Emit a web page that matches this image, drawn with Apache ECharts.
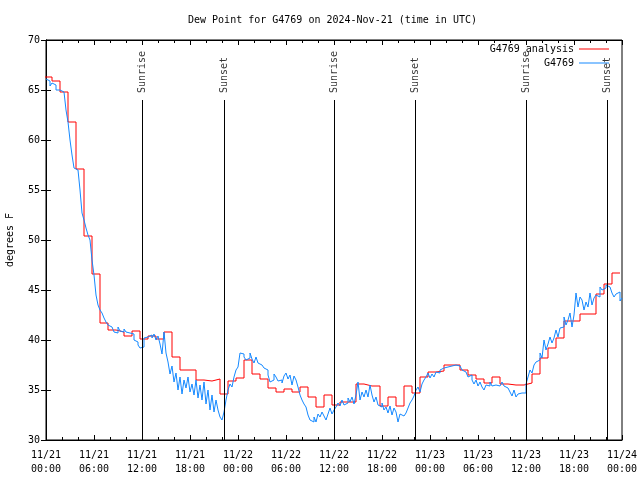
<!DOCTYPE html>
<html>
<head>
<meta charset="utf-8">
<script src="https://cdn.jsdelivr.net/npm/echarts@6/dist/echarts.min.js"></script>
<style>html,body{margin:0;padding:0;background:#fff}#c{width:640px;height:480px}</style>
</head>
<body>
<div id="c"></div>
<script>
// X axis in hours since 2024-11-21 00:00 UTC
const xTickLabels = ['11/21\n00:00','11/21\n06:00','11/21\n12:00','11/21\n18:00','11/22\n00:00','11/22\n06:00','11/22\n12:00','11/22\n18:00','11/23\n00:00','11/23\n06:00','11/23\n12:00','11/23\n18:00','11/24\n00:00'];
const yTicks = [30,35,40,45,50,55,60,65,70];

// G4769 analysis: hourly values, each valid from (hour - 0.25)
const analysisStart = -0.25;
const analysisStep = 1;
const analysisValues = [
66.3,65.9,64.8,61.8,57.1,50.4,46.6,41.7,41.0,40.8,40.4,40.9,
40.1,40.4,40.1,40.8,38.3,37.0,37.0,36.0,35.9,36.1,34.6,35.9,
36.2,38.0,36.6,36.1,35.2,34.8,35.1,34.8,35.3,34.3,33.3,34.5,
33.5,33.8,33.8,35.6,35.4,35.4,33.4,34.3,33.4,35.4,34.7,36.3,
36.8,36.9,37.5,37.5,37.0,36.5,36.1,35.7,36.3,35.6,35.5,35.5,
35.7,36.6,38.2,39.2,40.2,41.9,41.9,42.6,42.6,44.6,45.6,46.7,46.7];

// G4769 observations, every 15 minutes from 00:00
const obsStep = 0.25;
const obsValues = [
66.1,65.9,65.4,65.7, 65.5,65.0,65.0,65.0, 64.8,64.6,63.0,61.8, 60.0,58.5,57.2,57.0,
57.0,55.0,52.7,52.0, 51.2,50.5,50.0,48.0, 46.5,44.5,43.5,43.0, 42.7,42.2,41.8,41.5,
41.3,41.3,40.8,40.7, 41.3,40.9,40.8,41.1, 40.8,40.7,40.9,40.6, 40.0,39.8,39.5,39.2,
39.3,40.2,40.3,40.1, 40.5,40.2,40.6,40.0, 40.4,39.6,38.6,40.8, 38.7,37.8,36.6,37.4,
35.8,36.7,35.0,36.3, 34.6,36.0,35.2,36.3, 34.8,35.6,34.5,36.0, 34.2,35.5,34.0,35.8,
33.6,35.0,33.0,34.5, 32.8,34.0,33.0,32.3, 32.0,32.8,34.0,35.0, 35.6,35.3,36.3,37.0,
37.3,38.7,38.6,38.3, 38.0,38.2,38.7,38.1, 37.7,38.3,37.7,37.5, 37.3,37.2,37.0,36.5,
35.8,36.0,36.6,36.3, 35.9,36.0,35.7,36.4, 36.7,36.1,36.5,35.5, 36.4,36.0,35.3,34.5,
34.0,33.6,33.3,32.5, 32.0,31.8,32.3,31.8, 32.6,32.3,32.8,32.4, 32.0,32.6,33.2,32.6,
33.0,33.3,33.7,33.4, 34.0,33.5,33.7,34.2, 33.8,34.3,33.6,34.5, 35.8,34.0,34.8,34.3,
35.0,34.3,35.5,34.5, 33.8,34.3,33.5,33.3, 33.7,33.0,33.3,32.7, 33.4,32.5,33.2,32.8,
31.8,32.6,32.4,32.6, 32.7,33.2,33.7,34.0, 34.4,35.0,35.3,34.8, 35.6,36.0,36.3,36.7,
36.2,36.6,36.3,36.8, 36.7,37.0,37.2,37.1, 37.3,37.5,37.4,37.5, 37.5,37.6,37.4,37.3,
37.0,36.8,36.6,36.3, 36.5,36.0,35.6,36.0, 35.4,35.8,35.3,35.0, 35.5,35.4,35.8,35.4,
35.5,35.7,35.4,35.6, 35.8,35.4,35.2,35.0, 34.8,34.4,35.0,34.3, 34.6,34.7,34.7,34.7,
35.6,36.3,37.0,36.7, 37.5,37.8,38.0,38.7, 38.2,40.0,39.0,39.6, 40.3,39.7,40.2,41.0,
40.3,41.2,41.3,42.3, 41.5,42.0,42.7,41.3, 42.5,44.7,43.3,44.3, 44.0,43.0,43.8,43.3,
44.7,43.5,44.2,44.5, 44.3,45.3,45.0,45.2, 45.5,45.3,45.4,44.7, 44.3,44.6,44.8,43.9,
44.2];

// Sunrise / sunset times (hours)
const sunNames = ['Sunrise','Sunset','Sunrise','Sunset','Sunrise','Sunset'];
const sunTimes = [12.0, 22.25, 36.0, 46.125, 60.0, 70.125];
const sunLineTop = 64;

const analysisData = analysisValues.map((v,i) => [analysisStart + i*analysisStep, v]);
const obsData = obsValues.map((v,i) => [i*obsStep, v]);
const sunData = sunTimes.map((t,i) => ({name: sunNames[i], value: [t, sunLineTop]}));

const FONT = 'DejaVu Sans Mono';
const chart = echarts.init(document.getElementById('c'), null, {renderer: 'canvas'});
chart.setOption({
  animation: false,
  backgroundColor: '#fff',
  textStyle: {fontFamily: FONT, fontSize: 10, color: '#000'},
  title: {
    text: 'Dew Point for G4769 on 2024-Nov-21 (time in UTC)',
    left: 188, top: 15, padding: 0,
    textStyle: {fontFamily: FONT, fontSize: 10, fontWeight: 'normal', color: '#000'}
  },
  legend: {
    data: [{name: 'G4769 analysis', icon: 'rect'}, {name: 'G4769', icon: 'rect'}],
    orient: 'vertical', right: 26, top: 37, align: 'right',
    itemWidth: 30, itemHeight: 1, itemGap: 0,
    textStyle: {fontFamily: FONT, fontSize: 10, color: '#000', width: 90, align: 'right', lineHeight: 14}
  },
  grid: {left: 46, right: 18, top: 40, bottom: 40, outerBoundsMode: 'none', containLabel: false,
    show: true, borderColor: '#000', borderWidth: 1, backgroundColor: 'transparent'},
  xAxis: [{
    type: 'value', min: 0, max: 72, interval: 6,
    axisLine: {show: true, lineStyle: {color: '#000'}},
    axisTick: {show: true, inside: true, length: 5, lineStyle: {color: '#000'}},
    minorTick: {show: true, splitNumber: 3, length: 3, lineStyle: {color: '#000'}},
    splitLine: {show: false},
    axisLabel: {margin: 8, lineHeight: 14, color: '#000', fontFamily: FONT, fontSize: 10,
      formatter: (v) => xTickLabels[Math.round(v/6)]}
  }, {
    type: 'value', position: 'top', min: 0, max: 72, interval: 6,
    axisLine: {show: true, lineStyle: {color: '#000'}},
    axisTick: {show: true, inside: true, length: 5, lineStyle: {color: '#000'}},
    minorTick: {show: true, splitNumber: 3, length: 3, lineStyle: {color: '#000'}},
    splitLine: {show: false}, axisLabel: {show: false}
  }],
  yAxis: [{
    type: 'value', min: 30, max: 70, interval: 5,
    name: 'degrees F', nameLocation: 'middle', nameGap: 31, nameRotate: 90,
    nameTextStyle: {fontFamily: FONT, fontSize: 10, color: '#000'},
    axisLine: {show: true, lineStyle: {color: '#000'}},
    axisTick: {show: true, inside: true, length: 5, lineStyle: {color: '#000'}},
    splitLine: {show: false},
    axisLabel: {margin: 6, color: '#000', fontFamily: FONT, fontSize: 10,
      formatter: (v) => yTicks.includes(v) ? String(v) : ''}
  }, {
    type: 'value', position: 'right', min: 30, max: 70, interval: 5,
    axisLine: {show: true, lineStyle: {color: '#000'}},
    axisTick: {show: true, inside: true, length: 5, lineStyle: {color: '#000'}},
    splitLine: {show: false}, axisLabel: {show: false}
  }],
  series: [{
    name: 'G4769 analysis', type: 'line', step: 'end', data: analysisData,
    symbol: 'none', showSymbol: false, clip: true,
    lineStyle: {color: '#ff0000', width: 1}, itemStyle: {color: '#ff0000'}, z: 2
  }, {
    name: 'G4769', type: 'line', step: 'end', data: obsData,
    symbol: 'none', showSymbol: false, clip: true,
    lineStyle: {color: '#1589ff', width: 1}, itemStyle: {color: '#1589ff'}, z: 3
  }, {
    name: 'sun', type: 'scatter', data: sunData, symbolSize: 0, silent: true, z: 4,
    label: {show: true, formatter: (p) => p.name, position: 'top', distance: 7,
      rotate: 90, align: 'left', verticalAlign: 'middle',
      fontFamily: FONT, fontSize: 10, color: '#000'},
    markLine: {
      silent: true, symbol: 'none', animation: false,
      lineStyle: {color: '#000', width: 1, type: 'solid'},
      label: {show: false},
      data: sunTimes.map(t => [{coord: [t, 30]}, {coord: [t, sunLineTop]}])
    }
  }]
});
</script>
</body>
</html>
